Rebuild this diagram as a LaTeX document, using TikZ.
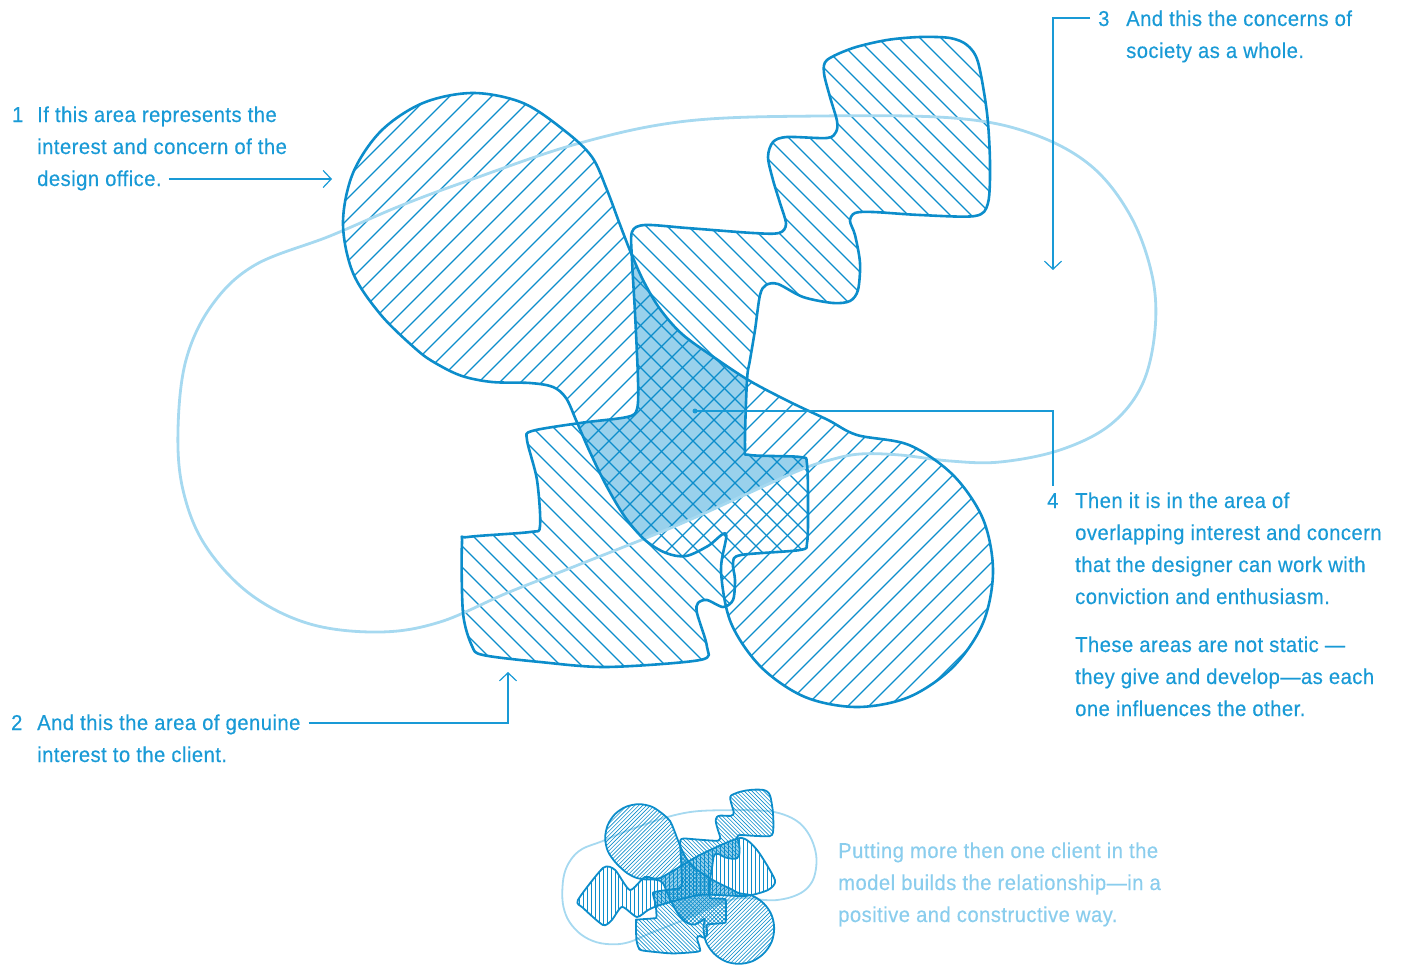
\documentclass[tikz,border=0pt]{standalone}
\usepackage{fontspec}
\setmainfont{Liberation Sans}[FakeStretch=0.94,LetterSpace=2.2,FakeBold=0.4]
\usetikzlibrary{arrows.meta}
\definecolor{mblue}{HTML}{0C8DCB}
\definecolor{tblue}{HTML}{199AD6}
\definecolor{fblue}{HTML}{99D1EC}
\definecolor{sblue}{HTML}{A6D9F0}
\definecolor{cblue}{HTML}{8ACDED}

\def\pathA{plot[smooth cycle, tension=0.55] coordinates {(417,350) (381,315) (353,273) (343,223) (353,173) (381,131) (423,103) (473,93) (523,103) (565,131) (592,157) (607,190) (619,222) (631,253) (644,282) (660,309) (682,334) (715,358) (750,381) (790,402) (828,420) (857,435) (909,445) (953,475) (983,519) (993,571) (983,623) (953,667) (909,697) (857,707) (805,697) (761,667) (731,623) (721,571) (726,534) (708,546) (686,556) (666,553) (645,540) (625,517) (606,485) (589,450) (576,420) (566,398) (553,387) (530,383) (492,382) (462,376) (437,364)}}

\def\pathB{plot[smooth cycle, tension=0.5] coordinates {(632,232) (645,225) (687,228) (753,233) (779,233) (786,224) (780,203) (773,180) (768,157) (773,142) (787,137) (827,138) (836,132) (837,121) (830,97) (824,73) (827,60) (853,48) (887,40) (920,37) (950,38) (967,45) (978,62) (987,113) (990,163) (988,203) (975,216) (920,215) (873,212) (855,213) (850,221) (855,235) (860,263) (858,290) (850,301) (833,303) (803,297) (778,284) (766,285) (760,295) (755,330) (750,360) (747,380) (745,447) (750,455) (800,457) (807,464) (808,513) (807,543) (800,550) (741,555) (733,563) (735,580) (733,600) (723,607) (707,600) (698,603) (697,613) (707,647) (700,660) (607,667) (540,662) (483,655) (472,646) (463,613) (462,543) (468,537) (530,532) (540,526) (537,480) (527,440) (532,431) (580,423) (627,417) (637,409) (638,380) (635,313) (632,260)}}

\def\pathS{plot[smooth cycle, tension=0.6] coordinates {(178,430) (186,360) (212,305) (255,265) (330,236) (400,206) (470,180) (580,143) (687,121) (820,116) (953,118) (1030,133) (1090,165) (1130,215) (1152,275) (1155,330) (1142,385) (1110,425) (1060,450) (1000,462) (950,461) (900,455) (860,454) (830,460) (800,470) (740,497) (673,527) (573,567) (507,593) (440,622) (380,632) (310,624) (250,594) (205,545) (183,490)}}

\def\pathC{plot[smooth cycle, tension=0.4] coordinates {(238,462) (335,338) (381,346) (438,423) (496,373) (554,377) (708,288) (862,223) (927,269) (996,385) (969,423) (881,446) (708,442) (554,481) (508,500) (465,527) (408,488) (369,538) (335,558) (258,492)}}

\begin{document}
\begin{tikzpicture}[x=1pt,y=-1pt,
  >={Straight Barb[length=8pt,width=17pt]},
  outl/.style={draw=mblue, line width=2.6pt, line join=round},
  outls/.style={draw=mblue, line width=1.8pt, line join=round},
  hatch/.style={mblue, line width=1.1pt},
  hatchs/.style={mblue, line width=0.6pt},
  soc/.style={draw=sblue, line width=2.8pt},
  socs/.style={draw=sblue, line width=1.8pt},
  conn/.style={tblue, line width=1.2pt},
  txt/.style={text=tblue, inner sep=0pt, anchor=base west, font=\fontsize{21.5}{32}\selectfont},
  ctxt/.style={txt, text=cblue}]
\useasboundingbox (0,0) rectangle (1406,966);

% ---------- main figure ----------
\begin{scope}
  \clip \pathA; \clip \pathB;
  \fill[fblue] \pathS;
\end{scope}
\begin{scope}
  \clip \pathA;
  \foreach \c in {420,441,...,1722} \draw[hatch] (\c,0) -- ++(-1000,1000);
\end{scope}
\begin{scope}
  \clip \pathB;
  \foreach \c in {-231,-210,...,990} \draw[hatch] (\c,0) -- ++(1000,1000);
\end{scope}
\draw[soc] \pathS;
\draw[outl] \pathA;
\draw[outl] \pathB;

% ---------- small figure ----------
\begin{scope}[shift={(516,780)}, scale=0.26]
  \draw[socs] \pathS;
  \begin{scope}\clip \pathS; \clip \pathA; \fill[fblue] \pathB; \end{scope}
  \begin{scope}\clip \pathS; \clip \pathA; \fill[fblue] \pathC; \end{scope}
  \begin{scope}\clip \pathS; \clip \pathB; \fill[fblue] \pathC; \end{scope}
  \begin{scope}
    \clip \pathC;
    \foreach \c in {230,245,...,1000} \draw[hatchs] (\c,200) -- (\c,600);
  \end{scope}
  \begin{scope}
    \clip \pathA;
    \foreach \c in {420,435,...,1710} \draw[hatchs] (\c,0) -- ++(-1000,1000);
  \end{scope}
  \begin{scope}
    \clip \pathB;
    \foreach \c in {-230,-215,...,990} \draw[hatchs] (\c,0) -- ++(1000,1000);
  \end{scope}
  \draw[outls] \pathC;
  \draw[outls] \pathA;
  \draw[outls] \pathB;
\end{scope}

% ---------- texts ----------
\node[txt] (n1) at (12,122) {1};
\node[txt] (t1a) at (37,122) {If this area represents the};
\node[txt] (t1b) at (37,154) {interest and concern of the};
\node[txt] (t1c) at (37,186) {design office.};

\node[txt] (n2) at (11,730) {2};
\node[txt] (t2a) at (37,730) {And this the area of genuine};
\node[txt] (t2b) at (37,762) {interest to the client.};

\node[txt] (n3) at (1098,26) {3};
\node[txt] (t3a) at (1126,26) {And this the concerns of};
\node[txt] (t3b) at (1126,58) {society as a whole.};

\node[txt] (n4) at (1047,508) {4};
\node[txt] (t4a) at (1075,508) {Then it is in the area of};
\node[txt] (t4b) at (1075,540) {overlapping interest and concern};
\node[txt] (t4c) at (1075,572) {that the designer can work with};
\node[txt] (t4d) at (1075,604) {conviction and enthusiasm.};
\node[txt] (t4e) at (1075,652) {These areas are not static —};
\node[txt] (t4f) at (1075,684) {they give and develop—as each};
\node[txt] (t4g) at (1075,716) {one influences the other.};

\node[ctxt] (c1) at (838,858) {Putting more then one client in the};
\node[ctxt] (c2) at (838,890) {model builds the relationship—in a};
\node[ctxt] (c3) at (838,922) {positive and constructive way.};

% ---------- connectors ----------
\coordinate (a1) at (332,179);
\draw[conn,->] ([xshift=7pt,yshift=7pt]t1c.base east) -- (a1);
\coordinate (a2) at (508,672);
\draw[conn,->] ([xshift=8pt,yshift=7pt]t2a.base east) -| (a2);
\coordinate (a3) at (1053,270);
\draw[conn,->] ([xshift=-8pt,yshift=8pt]n3.base west) -| (a3);
\node[circle, fill=tblue, inner sep=0pt, minimum size=5pt] (d4) at (695,411) {};
\coordinate (e4) at (1053,486);
\draw[conn] (d4.center) -| (e4);
\end{tikzpicture}
\end{document}
